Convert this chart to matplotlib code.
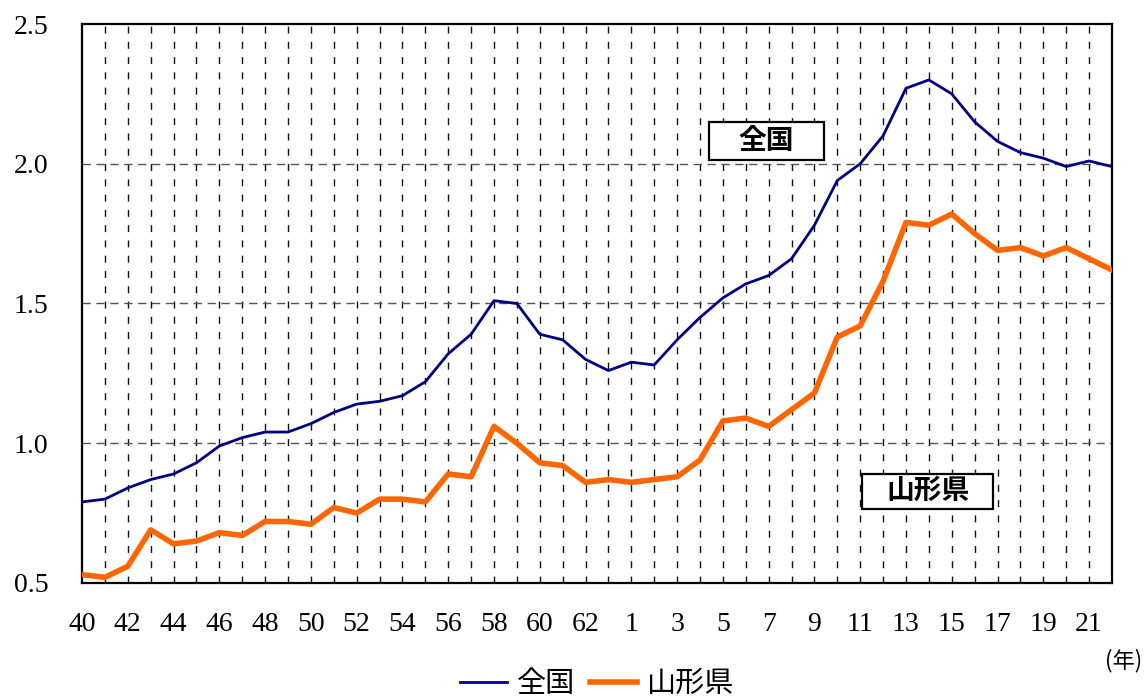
import matplotlib
matplotlib.use('Agg')
import matplotlib.pyplot as plt
from matplotlib.patches import Rectangle

plt.rcParams['font.family'] = ['Liberation Serif', 'Noto Sans CJK JP']

years = list(range(1965, 2011))
zenkoku = [0.79, 0.80, 0.84, 0.87, 0.89, 0.93, 0.99, 1.02, 1.04, 1.04,
           1.07, 1.11, 1.14, 1.15, 1.17, 1.22, 1.32, 1.39, 1.51, 1.50,
           1.39, 1.37, 1.30, 1.26, 1.29, 1.28, 1.37, 1.45, 1.52, 1.57,
           1.60, 1.66, 1.78, 1.94, 2.00, 2.10, 2.27, 2.30, 2.25, 2.15,
           2.08, 2.04, 2.02, 1.99, 2.01, 1.99]
yamagata = [0.53, 0.52, 0.56, 0.69, 0.64, 0.65, 0.68, 0.67, 0.72, 0.72,
            0.71, 0.77, 0.75, 0.80, 0.80, 0.79, 0.89, 0.88, 1.06, 1.00,
            0.93, 0.92, 0.86, 0.87, 0.86, 0.87, 0.88, 0.94, 1.08, 1.09,
            1.06, 1.12, 1.18, 1.38, 1.42, 1.58, 1.79, 1.78, 1.82, 1.75,
            1.69, 1.70, 1.67, 1.70, 1.66, 1.62]

xtick_years = list(range(1965, 2010, 2))
xtick_labels = ['40', '42', '44', '46', '48', '50', '52', '54', '56', '58',
                '60', '62', '1', '3', '5', '7', '9', '11', '13', '15',
                '17', '19', '21']
yticks = [0.5, 1.0, 1.5, 2.0, 2.5]

fig = plt.figure(figsize=(11.44, 6.98), dpi=100)
ax = fig.add_axes([0.0717, 0.1648, 0.9003, 0.8008])

# grid lines
for yr in years[1:-1]:
    ax.axvline(yr, color='#111111', lw=1.0, ls=(0, (5, 6)), zorder=1)
for v in yticks[1:-1]:
    ax.axhline(v, color='#555555', lw=1.0, ls=(0, (6, 4)), zorder=1)

ax.plot(years, zenkoku, color='#000080', lw=2.0, zorder=3, label='全国')
ax.plot(years, yamagata, color='#FF6600', lw=4.0, zorder=3, label='山形県')

ax.set_xlim(1965, 2010)
ax.set_ylim(0.5, 2.5)
ax.set_xticks(xtick_years)
ax.set_xticklabels(xtick_labels)
ax.set_yticks(yticks)
ax.set_yticklabels(['%.1f' % v for v in yticks])
ax.tick_params(axis='x', length=0, pad=21, labelsize=20)
ax.tick_params(axis='y', length=0, pad=24, labelsize=20)
for s in ax.spines.values():
    s.set_linewidth(1.6)
    s.set_color('black')

# boxed labels
ax.add_patch(Rectangle((1992.4, 2.013), 5.0, 0.136, fill=True, fc='white',
                       ec='black', lw=1.6, zorder=4))
ax.text(1994.9, 2.081, '全国', ha='center', va='center', fontsize=20,
        fontweight='bold', family=['Noto Sans CJK JP'], zorder=5)
ax.add_patch(Rectangle((1999.1, 0.765), 5.7, 0.125, fill=True, fc='white',
                       ec='black', lw=1.6, zorder=4))
ax.text(2001.95, 0.829, '山形県', ha='center', va='center', fontsize=20,
        fontweight='bold', family=['Noto Sans CJK JP'], zorder=5)

fig.text(0.998, 0.054, '(年)', ha='right', va='center', fontsize=16,
         family=['Noto Sans CJK JP'])

leg = fig.legend(loc='center', bbox_to_anchor=(0.522, 0.02), ncol=2,
                 frameon=False, handlelength=1.6,
                 handletextpad=0.35, columnspacing=0.5,
                 prop={'family': ['Noto Sans CJK JP'], 'size': 21})

plt.savefig('out.png', dpi=100)
